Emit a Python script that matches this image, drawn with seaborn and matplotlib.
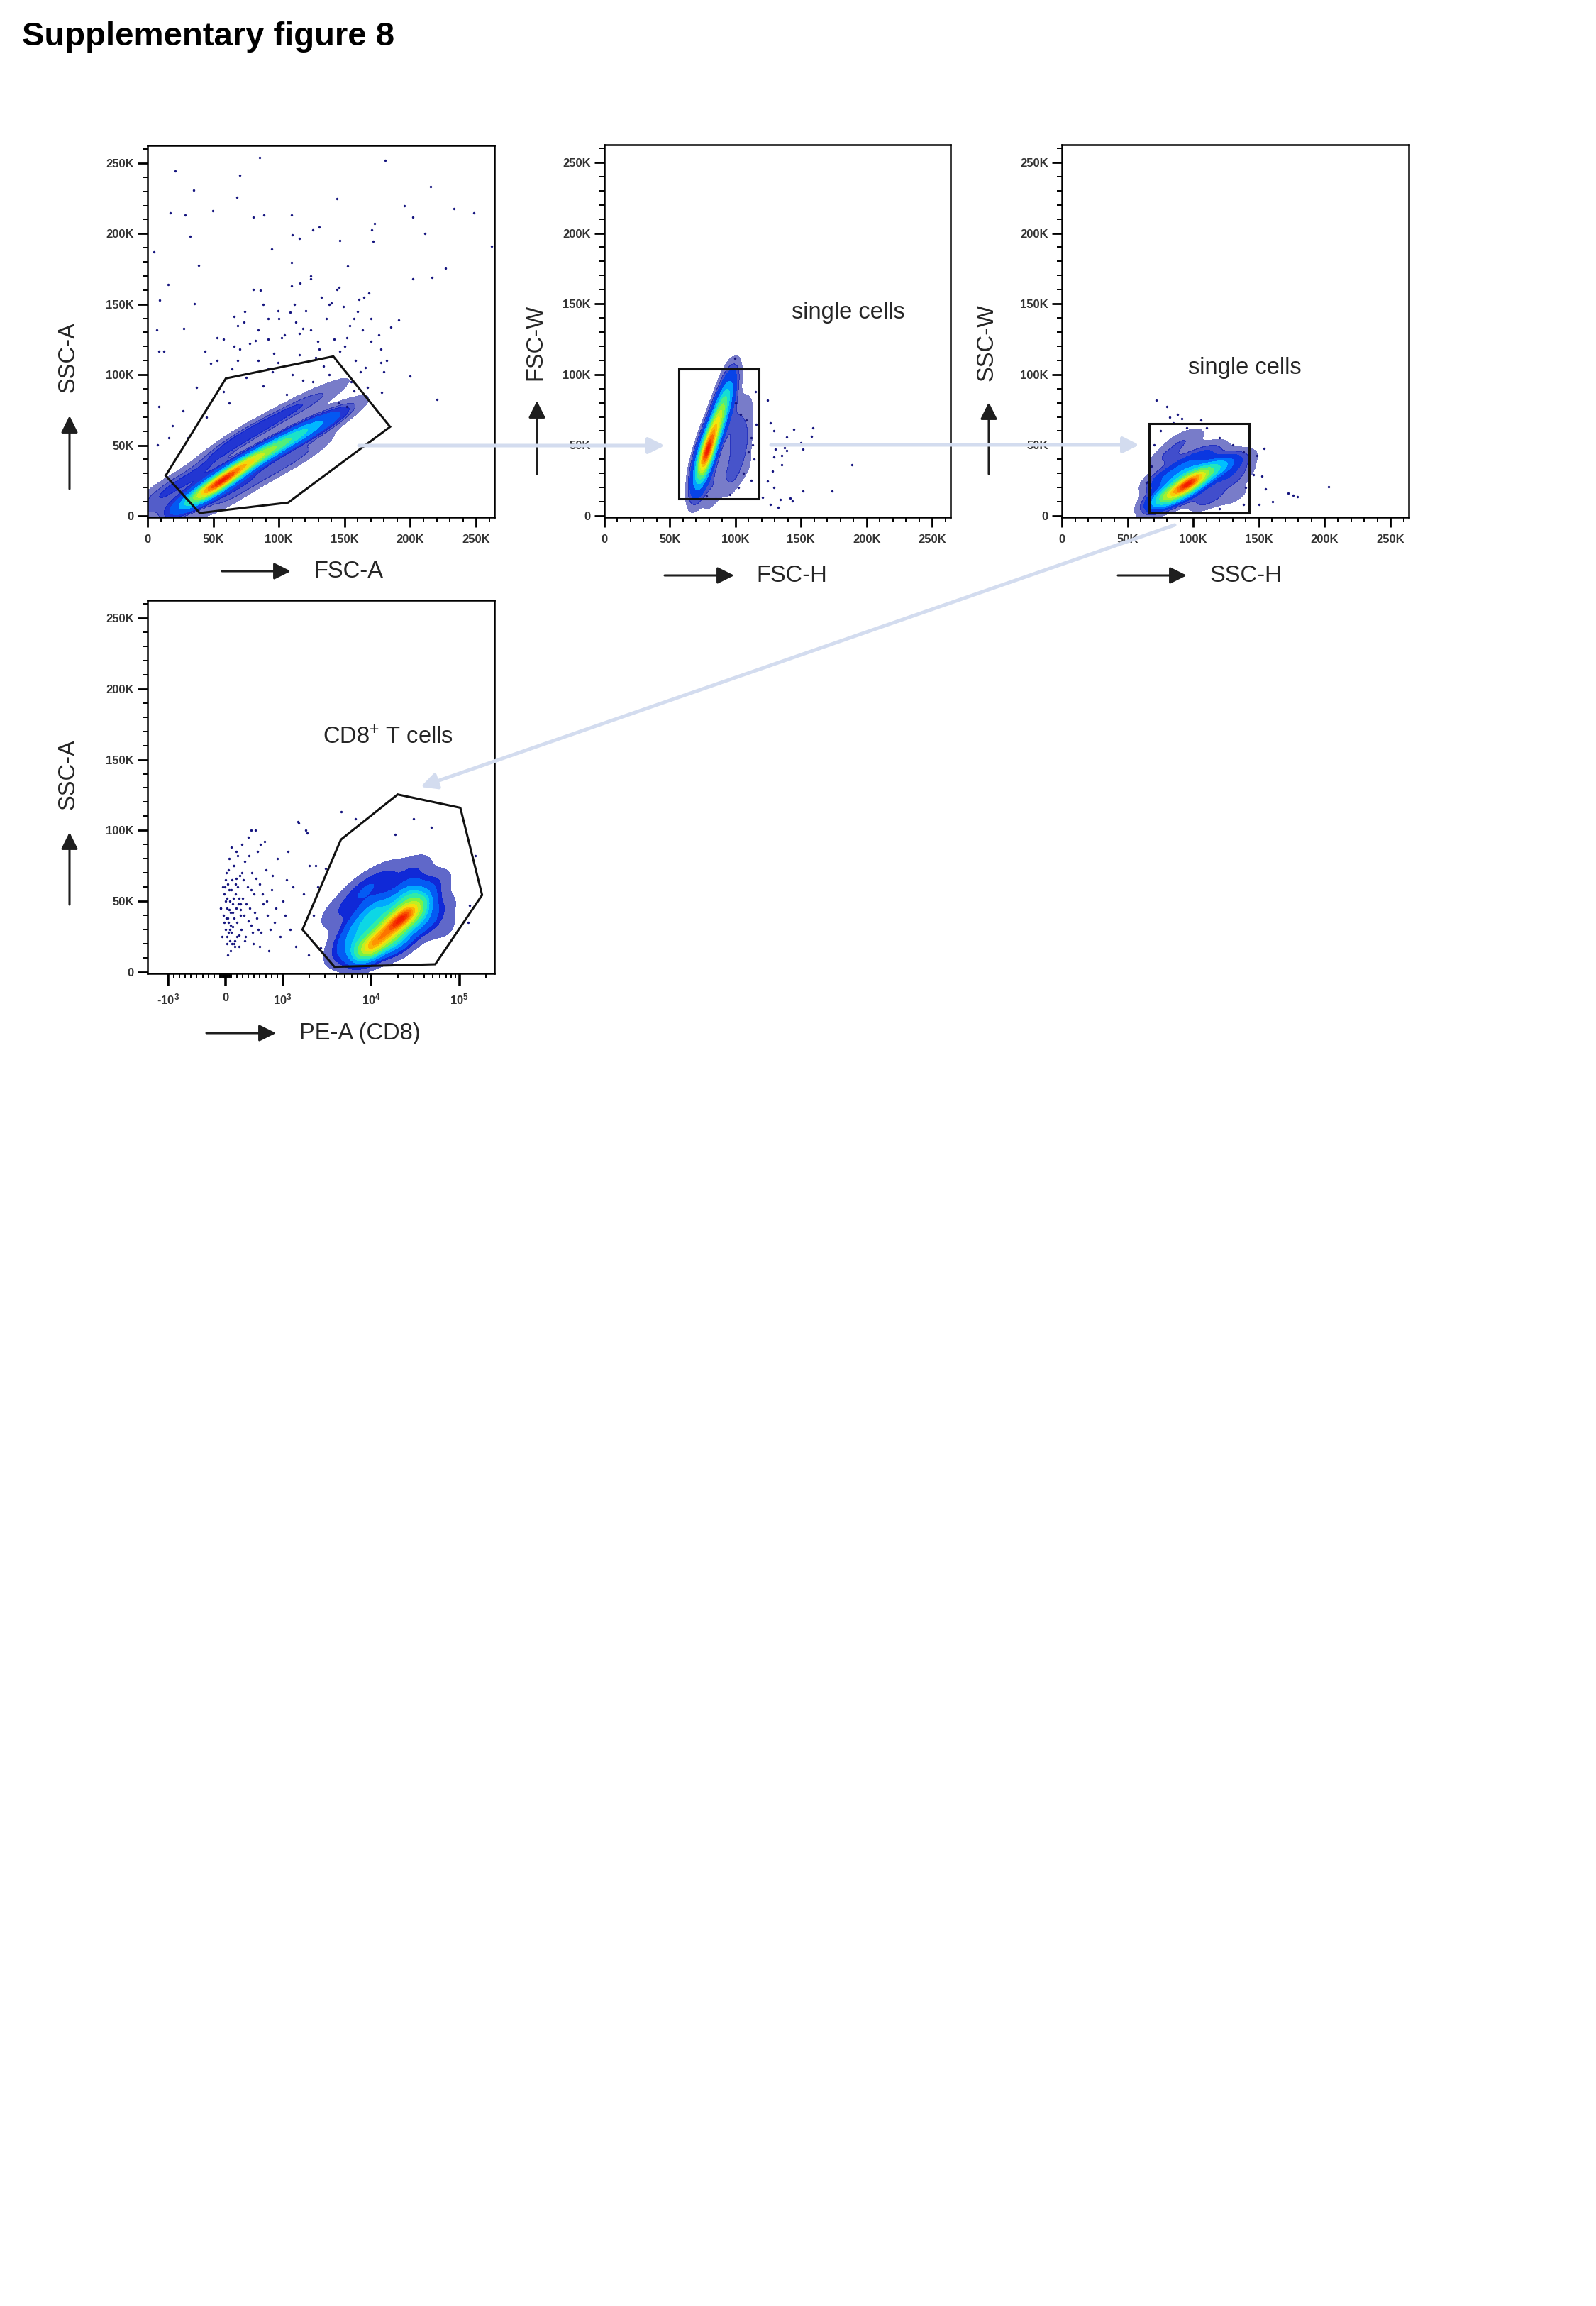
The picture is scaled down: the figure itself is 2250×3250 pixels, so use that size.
import numpy as np
import pandas as pd
import matplotlib
matplotlib.use("Agg")
import matplotlib.pyplot as plt
import seaborn as sns
from matplotlib.patches import Polygon, Rectangle
from matplotlib.colors import LinearSegmentedColormap
from matplotlib.scale import SymmetricalLogTransform
from matplotlib.ticker import MultipleLocator, FixedLocator

# ---------------------------------------------------------------- data
title = "Supplementary figure 8"
lin_ticks = [0, 50, 100, 150, 200, 250]
lin_ticklabels = ["0", "50K", "100K", "150K", "200K", "250K"]
lin_xlim = (0, 264)
lin_ylim = (-1, 262.5)

# Panel 1: FSC-A (x) vs SSC-A (y), values in K
p1_dens_x = [46, 50, 55, 60, 66, 73, 80, 88, 96, 104, 112, 120, 128, 136, 143,
             40, 55, 70, 85, 100, 115, 130, 60, 80, 100, 120, 35, 25, 8, 12, 5, 18, 90, 140]
p1_dens_y = [17, 20, 24, 28, 32, 36, 40, 44, 48, 52, 56, 60, 63, 66, 69,
             30, 45, 55, 62, 70, 78, 82, 12, 25, 35, 45, 15, 25, 12, 20, 5, 8, 92, 90]
p1_dens_w = [15, 11, 9.5, 8.5, 7.5, 7, 6.5, 6, 5.5, 5, 4.5, 3.5, 2.8, 2, 1.2,
             2, 2, 2, 1.8, 1.6, 1.4, 1, 1.5, 1.5, 1.5, 1.4, 1.2, 1, 1.5, 1, 1, 0.8, 0.5, 0.4]
p1_dot_x = [85.3, 181, 21.1, 70.3, 35.2, 215.4, 143.9, 67.9, 195.3, 233, 17.2, 28.7, 49.5, 80.4,
            88.4, 109.5, 201.8, 248.6, 172.7, 32.6, 110.1, 115.3, 125.6, 130.9, 210.9, 262,
            4.7, 170.4, 171.7, 146.5, 94.5, 109.5, 152.4, 227, 39.1, 124.3, 201.8, 216.7, 80.4,
            15.6, 9.1, 35.7, 109.5, 143.9, 164.6, 168.5, 191.2, 185, 27.8, 7.1, 8.9, 12.5, 199.8,
            220.5, 178.2, 179.8, 177.7, 65.8, 68.4, 73.6, 84, 91.8, 99.6, 102.2, 108.7, 112.6,
            115.3, 120.5, 124.3, 129.5, 136, 140, 149.1, 156.9, 163.4, 160.8, 151.7, 169.9,
            177.7, 52.8, 43.7, 52.8, 68.4, 84, 99.6, 115.3, 130.9, 146.5, 162.1, 167.3, 156.9,
            151.7, 37.2, 26.8, 19, 8.6, 7.3, 16.4, 30.7, 75, 95, 118, 138, 58, 88, 106, 126,
            145, 66, 78, 92, 134, 155, 45, 62,
            70, 82, 96, 104, 118, 128, 142, 150, 158, 166, 74, 88, 112, 132, 146, 160, 64, 100,
            124, 138, 154, 170, 86, 116, 58, 48, 176, 182, 92, 110]
p1_dot_y = [253.7, 252, 244.4, 241.4, 230.8, 233.3, 225, 226, 219.9, 217.7, 214.5, 213, 216.4,
            211.5, 213.2, 213, 211.5, 214.5, 207.4, 198.1, 199.2, 196.7, 202.7, 204.6, 200,
            190.9, 186.9, 202.7, 194.5, 195.1, 189.1, 179.6, 176.9, 175.5, 177.4, 167.9, 167.9,
            169.2, 160.5, 163.8, 153.1, 150.4, 162.8, 160.5, 155, 157.7, 138.7, 133.8, 132.7,
            131.8, 116.9, 116.9, 99.2, 82.3, 87.7, 101.9, 108.7, 141.4, 134.6, 137.4, 131.8,
            140, 145.5, 126.4, 144.1, 137.4, 129.2, 145.5, 131.8, 123.7, 140, 150.9, 148.2,
            140, 131.8, 153.6, 126.4, 123.7, 118.3, 126.4, 116.9, 110.1, 110.1, 110.1, 108.7,
            114.2, 118.3, 116.9, 101.9, 91, 88.3, 77.4, 91, 74.6, 63.7, 77.4, 50.1, 55.5, 55.5,
            98, 102, 96, 100, 88, 92, 86, 95, 80, 120, 122, 125, 106, 95, 70, 80,
            118, 124, 115, 128, 133, 112, 125, 120, 110, 105, 145, 150, 150, 155, 162, 145, 104,
            140, 170, 150, 135, 140, 160, 165, 125, 108, 128, 110, 104, 100]
p1_gate_x = [59.6, 141.4, 184.6, 107.0, 39.7, 13.8]
p1_gate_y = [97.4, 113.0, 63.1, 9.4, 2.0, 28.5]

# Panel 2: FSC-H (x) vs FSC-W (y)
p2_dens_x = [76, 77, 79, 81, 83, 85, 87, 89, 91, 93, 95, 74, 73, 98, 103, 100, 106, 110, 96, 82,
             88, 92, 105, 108, 100]
p2_dens_y = [38, 43, 48, 53, 58, 63, 68, 73, 79, 85, 92, 30, 22, 55, 45, 72, 62, 35, 30, 18,
             25, 100, 50, 75, 30]
p2_dens_w = [13, 10, 8, 7, 6.5, 6, 6, 5.5, 5, 4, 2.5, 4, 2, 1.2, 1, 1, 0.6, 0.5, 0.8, 1,
             0.8, 0.3, 1.2, 0.6, 1]
p2_dot_x = [124.4, 126.8, 129.5, 159.3, 144.6, 139.2, 158, 150, 151.4, 137.6, 139.2, 130.2, 135.4,
            129.5, 135.4, 128.2, 189, 129.5, 124.4, 173.5, 151.4, 120.5, 134.2, 141.9, 143.2,
            126.8, 132.8, 99.7, 100, 104, 108, 112, 110, 114, 106, 112, 102, 96, 85, 78, 116, 115, 113]
p2_dot_y = [81.9, 65.8, 60.2, 62.4, 61.3, 55.7, 56, 51.6, 47.1, 48.2, 46, 47.1, 42.6, 41.5, 36,
            31.5, 36, 20.3, 24.8, 17.4, 17.4, 13.2, 11.4, 12.5, 10.3, 8.1, 5.8, 111.6, 80, 72,
            68, 55, 45, 40, 30, 25, 20, 15, 12, 14, 65, 88, 50]
p2_gate = (57.0, 12.2, 118.0, 103.7)   # x0, y0, x1, y1

# Panel 3: SSC-H (x) vs SSC-W (y)
p3_dens_x = [98, 94, 102, 78, 84, 90, 108, 115, 122, 130, 86, 95, 105, 115, 125, 135, 80, 90, 100,
             75, 72, 110, 130, 140]
p3_dens_y = [24, 21, 27, 13, 15, 18, 30, 33, 36, 38, 30, 36, 42, 46, 25, 30, 42, 52, 56, 25, 8, 12,
             15, 40]
p3_dens_w = [10, 9, 8, 8, 7, 7, 6, 4.5, 3, 2, 3, 3, 2, 1.2, 1.5, 1, 1.5, 1, 0.6, 3, 2, 2, 1, 0.5]
p3_dot_x = [72, 79.8, 153.8, 148.6, 146, 152.5, 155, 160.3, 150, 172, 176, 179, 203, 64.2, 91.5,
            105.7, 70, 75, 85, 95, 110, 120, 130, 138, 140, 68, 138, 120, 88, 82]
p3_dot_y = [82, 77.5, 47.6, 42.7, 29.2, 28, 19, 10, 7.8, 16, 14.6, 13.5, 20.7, 23.6, 68.6, 68, 50,
            60, 66, 62, 62, 55, 50, 45, 20, 35, 8, 5, 72, 70]
p3_gate = (66.3, 1.8, 142.6, 65.2)

# Panel 4: PE-A (CD8) (x, raw intensity) vs SSC-A (y, K)
p4_ticks = [-1000, 0, 1000, 10000, 100000]
p4_ticklabels = [r"$\mathbf{\text{-}10^{3}}$", r"$\mathbf{0}$", r"$\mathbf{10^{3}}$",
                 r"$\mathbf{10^{4}}$", r"$\mathbf{10^{5}}$"]
p4_minor = ([-900, -800, -700, -600, -500, -400, -300, -200, -100]
            + [-80, -60, -40, -20, 20, 40, 60, 80]
            + [100, 200, 300, 400, 500, 600, 700, 800, 900]
            + [2000, 3000, 4000, 5000, 6000, 7000, 8000, 9000]
            + [20000, 30000, 40000, 50000, 60000, 70000, 80000, 90000, 200000])
p4_xlim = (-1710, 248000)
p4_dens_x = [9000, 11000, 14000, 18000, 22000, 28000, 33000, 12000, 8000, 6000, 25000, 40000,
             50000, 30000, 15000, 6000, 5000, 60000, 9000, 20000, 4000, 70000]
p4_dens_y = [16, 20, 28, 34, 38, 42, 48, 45, 35, 25, 55, 35, 62, 72, 68, 50, 15, 45, 60, 22, 40, 30]
p4_dens_w = [9, 7, 7, 7, 7, 8, 5, 5, 4, 3, 5, 3, 1.5, 1.5, 1.5, 1.5, 2, 1, 2, 5, 1, 0.6]
p4_dot_x = [-60, -40, -20, 0, 10, 20, 30, 40, 50, 60, 80, 90, 100, 110, 130, 150, 160, 170, 190,
            200, 220, 240, 250, 270, 290, 300, 320, 340, 350, 380, 400, 420, 440, 460, 480, 500,
            520, 540, 560, 590, 620, 650, 680, 700, 730, 760, 800, 850, 900, 950, 1000, 1100,
            1200, 1500, 1800, 2000, 2500, 2200, 1400, 1700, -30, 0, 20, 40, 60, 70, 90, 120,
            140, 160, 180, 210, 230, 260, 280, 4560, 6600, 30000, 48000, 18600, 150000, 130000,
            1470, 1870, 2340, 3030, 1950, 2660, 124000, -80, -10, 35, 75, 105, 145, 185, 265,
            -90, -50, 5, 15, 25, 45, 55, 65, 85, 95, 115, 125, 135, 155, 175, 195, 215, 235, 255,
            310, 330, 360, 390, 410, 450, 470, 510, 530, 570, 610, 640, 720, 780, 820, 880, 1050,
            1150, 1300, 600, 450]
p4_dot_y = [25, 40, 55, 30, 70, 45, 20, 62, 35, 80, 50, 15, 28, 65, 42, 75, 22, 55, 85, 35, 48,
            18, 68, 30, 90, 52, 40, 78, 25, 60, 95, 45, 33, 70, 20, 55, 100, 38, 85, 62, 28, 48,
            92, 72, 40, 15, 58, 35, 80, 25, 50, 65, 30, 105, 100, 75, 60, 40, 18, 55, 35, 50,
            25, 38, 58, 22, 42, 32, 52, 18, 45, 60, 26, 40, 70, 113, 108, 108, 102, 97, 82, 47,
            106, 98, 75, 73, 12, 17, 35, 45, 60, 12, 30, 88, 20, 66, 48,
            45, 60, 65, 38, 52, 28, 72, 44, 33, 58, 20, 48, 75, 38, 62, 25, 82, 52, 44, 65, 22,
            48, 36, 82, 58, 28, 42, 66, 30, 90, 55, 50, 30, 68, 45, 40, 85, 60, 18, 100]
p4_gate_x = [19900, 102000, 180000, 53100, 3830, 1665, 4530]
p4_gate_y = [125.4, 116.0, 54.4, 5.5, 3.7, 30.0, 93.5]

# density styling (iso-proportion levels, jet-like pseudocolour by density)
LEVELS = [0.02, 0.08, 0.16, 0.26, 0.36, 0.46, 0.56, 0.65, 0.73, 0.8, 0.86, 0.91, 0.95, 0.975,
          0.99, 1.0]
PSEUDO = LinearSegmentedColormap.from_list(
    "pseudo", [(0.00, (0.08, 0.10, 0.60, 0.50)), (0.08, (0.05, 0.15, 0.85, 1.0)),
               (0.18, (0.0, 0.45, 1.0, 1.0)), (0.28, (0.0, 0.80, 1.0, 1.0)),
               (0.40, (0.15, 0.92, 0.70, 1.0)), (0.54, (0.50, 0.95, 0.25, 1.0)),
               (0.72, (0.95, 0.92, 0.05, 1.0)), (0.88, (1.0, 0.55, 0.0, 1.0)),
               (1.00, (0.95, 0.10, 0.0, 1.0))])
DOT_COLOR = "#15157f"

# ---------------------------------------------------------------- style
sns.set_style("ticks")
plt.rcParams["font.family"] = ["Liberation Sans", "DejaVu Sans"]
plt.rcParams["mathtext.fontset"] = "custom"
plt.rcParams["mathtext.rm"] = "Liberation Sans"
plt.rcParams["mathtext.it"] = "Liberation Sans:italic"
plt.rcParams["mathtext.bf"] = "Liberation Sans:bold"

W, H = 2250, 3250
fig = plt.figure(figsize=(W / 100, H / 100), dpi=100)
fig.patch.set_facecolor("white")


def add_panel(l, r, t, b):
    return fig.add_axes([l / W, 1 - b / H, (r - l) / W, (b - t) / H])


def style_axes(ax):
    for s in ax.spines.values():
        s.set_visible(True)
        s.set_linewidth(1.8)
        s.set_color("black")
    ax.tick_params(which="both", direction="out", color="black", top=False, right=False,
                   bottom=True, left=True)
    ax.tick_params(which="major", length=10, width=2.0)
    ax.tick_params(which="minor", length=5, width=1.4)
    ax.tick_params(axis="y", which="major", pad=4)
    ax.tick_params(axis="x", which="major", pad=7)
    ax.set_xlabel("")
    ax.set_ylabel("")


TICKFONT = dict(fontsize=12, fontweight="bold", color="#333333")


def lin_axes(ax):
    ax.set_xlim(*lin_xlim)
    ax.set_ylim(*lin_ylim)
    ax.set_xticks(lin_ticks, lin_ticklabels, **TICKFONT)
    ax.set_yticks(lin_ticks, lin_ticklabels, **TICKFONT)
    ax.xaxis.set_minor_locator(MultipleLocator(10))
    ax.yaxis.set_minor_locator(MultipleLocator(10))
    style_axes(ax)


def density(ax, x, y, w, bw):
    x = np.asarray(x, dtype=float)
    y = np.asarray(y, dtype=float)
    w = np.asarray(w, dtype=float)
    sns.kdeplot(x=x, y=y, weights=w, fill=True, levels=LEVELS, cmap=PSEUDO,
                bw_adjust=bw, gridsize=220, cut=4, ax=ax)


def dots(ax, x, y):
    x = np.asarray(x, dtype=float)
    y = np.asarray(y, dtype=float)
    sns.scatterplot(x=x, y=y, s=6, color=DOT_COLOR, linewidth=0, ax=ax, zorder=3)


# ---------------------------------------------------------------- panel 1
ax1 = add_panel(208, 697, 205, 729)
density(ax1, p1_dens_x, p1_dens_y, p1_dens_w, 0.8)
dots(ax1, p1_dot_x, p1_dot_y)
ax1.add_patch(Polygon(list(zip(p1_gate_x, p1_gate_y)), closed=True, fill=False,
                      edgecolor="#111111", lw=2.2, zorder=4))
lin_axes(ax1)

# ---------------------------------------------------------------- panel 2
ax2 = add_panel(852, 1340, 204, 729)
density(ax2, p2_dens_x, p2_dens_y, p2_dens_w, 0.9)
dots(ax2, p2_dot_x, p2_dot_y)
x0, y0, x1, y1 = p2_gate
ax2.add_patch(Rectangle((x0, y0), x1 - x0, y1 - y0, fill=False, edgecolor="#111111",
                        lw=2.2, zorder=4))
lin_axes(ax2)

# ---------------------------------------------------------------- panel 3
ax3 = add_panel(1497, 1986, 204, 729)
density(ax3, p3_dens_x, p3_dens_y, p3_dens_w, 0.85)
dots(ax3, p3_dot_x, p3_dot_y)
x0, y0, x1, y1 = p3_gate
ax3.add_patch(Rectangle((x0, y0), x1 - x0, y1 - y0, fill=False, edgecolor="#111111",
                        lw=2.2, zorder=4))
lin_axes(ax3)

# ---------------------------------------------------------------- panel 4 (biexponential-like x)
T = SymmetricalLogTransform(10, 1000, 0.585)


def tx(v):
    return T.transform(np.asarray(v, dtype=float))


ax4 = add_panel(208, 697, 846, 1372)
density(ax4, tx(p4_dens_x), p4_dens_y, p4_dens_w, 0.8)
dots(ax4, tx(p4_dot_x), p4_dot_y)
ax4.add_patch(Polygon(list(zip(tx(p4_gate_x), p4_gate_y)), closed=True, fill=False,
                      edgecolor="#111111", lw=2.2, zorder=4))
ax4.set_xlim(*tx(p4_xlim))
ax4.set_ylim(*lin_ylim)
ax4.set_xticks(tx(p4_ticks), p4_ticklabels, **TICKFONT)
ax4.xaxis.set_minor_locator(FixedLocator(tx(p4_minor)))
ax4.set_yticks(lin_ticks, lin_ticklabels, **TICKFONT)
ax4.yaxis.set_minor_locator(MultipleLocator(10))
style_axes(ax4)
ax4.tick_params(axis="x", which="major", length=12, width=2.6)

# ---------------------------------------------------------------- overlay: labels and arrows
ov = fig.add_axes([0, 0, 1, 1], zorder=10)
ov.set_xlim(0, W)
ov.set_ylim(H, 0)
ov.axis("off")
ov.patch.set_alpha(0)

ov.text(31, 64, title, fontsize=34, fontweight="bold", ha="left", va="baseline", color="black")

LABEL_FS = 23.5


def black_arrow(x0, y0, x1, y1):
    ov.annotate("", xy=(x1, y1), xytext=(x0, y0),
                arrowprops=dict(arrowstyle="-|>", mutation_scale=36, lw=2.2,
                                color="#1e1e1e", shrinkA=0, shrinkB=0))


def flow_arrow(x0, y0, x1, y1):
    ov.annotate("", xy=(x1, y1), xytext=(x0, y0),
                arrowprops=dict(arrowstyle="-|>", mutation_scale=34, lw=3.6,
                                color="#d3dcef", shrinkA=0, shrinkB=0))


# x labels
for txt, cx, cy, ax0, ax1_ in [("FSC-A", 491, 805, 313, 410),
                               ("FSC-H", 1116, 811, 937, 1035),
                               ("SSC-H", 1756, 811, 1576, 1673),
                               ("PE-A (CD8)", 507, 1456, 291, 389)]:
    ov.text(cx, cy, txt, fontsize=LABEL_FS, ha="center", va="center")
    black_arrow(ax0, cy, ax1_, cy)

# y labels
for txt, cx, cy, axx, yb, yt in [("SSC-A", 96, 503, 98, 689, 586),
                                 ("FSC-W", 755, 482, 757, 668, 565),
                                 ("SSC-W", 1391, 483, 1394, 668, 567),
                                 ("SSC-A", 96, 1091, 98, 1275, 1173)]:
    ov.text(cx, cy, txt, fontsize=LABEL_FS, ha="center", va="center", rotation=90)
    black_arrow(axx, yb, axx, yt)

# gate names
ov.text(1116, 441, "single cells", fontsize=LABEL_FS, ha="left", va="center")
ov.text(1675, 518, "single cells", fontsize=LABEL_FS, ha="left", va="center")
ov.text(455, 1040, r"CD8$^{+}$ T cells", fontsize=LABEL_FS, ha="left", va="center")

# gating flow arrows
flow_arrow(506, 628, 937, 628)
flow_arrow(1087, 627, 1606, 627)
flow_arrow(1656, 740, 593, 1109)

fig.savefig("out.png", dpi=100, facecolor="white")
